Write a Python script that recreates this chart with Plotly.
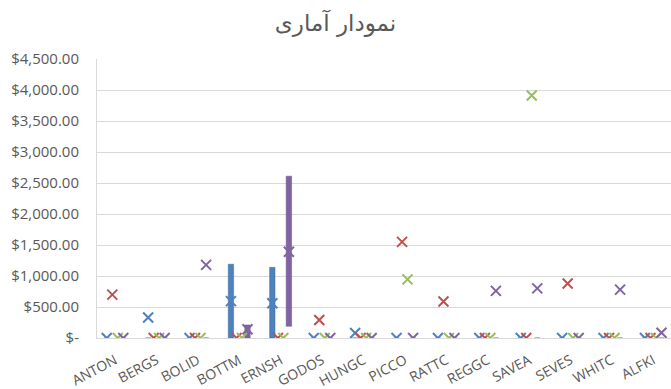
import plotly.graph_objects as go

# categories and series values
categories = ["ANTON", "BERGS", "BOLID", "BOTTM", "ERNSH", "GODOS", "HUNGC",
              "PICCO", "RATTC", "REGGC", "SAVEA", "SEVES", "WHITC", "ALFKI"]

blue_vals = [0, 330, 0, 595, 560, 0, 80, 0, 0, 0, 0, 0, 0, 0]
red_vals = [700, 0, 0, 0, 0, 290, 0, 1550, 590, 0, 0, 880, 0, 0]
green_vals = [0, 0, 0, 0, 0, 0, 0, 945, 0, 0, 3910, 0, 0, 0]
purple_vals = [0, 0, 1180, 140, 1390, 0, 0, 0, 0, 760, 800, 0, 780, 85]

# bar spans (low / high) for the two series that show bars
blue_bar_low = [0] * 14
blue_bar_high = [0, 0, 0, 1190, 1140, 0, 0, 0, 0, 0, 0, 0, 0, 0]
purple_bar_low = [0, 0, 0, 0, 190, 0, 0, 0, 0, 0, 0, 0, 0, 0]
purple_bar_high = [0, 0, 0, 210, 2610, 0, 0, 0, 0, 0, 0, 0, 0, 0]

y_ticks = [0, 500, 1000, 1500, 2000, 2500, 3000, 3500, 4000, 4500]
y_ticktext = ["$-", "$500.00", "$1,000.00", "$1,500.00", "$2,000.00",
              "$2,500.00", "$3,000.00", "$3,500.00", "$4,000.00", "$4,500.00"]

title_text = "نمودار آماری"

BLUE, RED, GREEN, PURPLE = "#4F81BD", "#C0504D", "#9BBB59", "#8064A2"
offsets = {"blue": -0.2, "red": -0.066, "green": 0.066, "purple": 0.2}
xs = list(range(len(categories)))

fig = go.Figure()

# bars
fig.add_trace(go.Bar(
    x=[i + offsets["blue"] for i in xs],
    y=[h - l for h, l in zip(blue_bar_high, blue_bar_low)],
    base=blue_bar_low, width=0.13,
    marker=dict(color=BLUE, line=dict(color="#3A6BA5", width=0.5)),
    showlegend=False, hoverinfo="skip"))
fig.add_trace(go.Bar(
    x=[i + offsets["purple"] for i in xs],
    y=[h - l for h, l in zip(purple_bar_high, purple_bar_low)],
    base=purple_bar_low, width=0.13,
    marker=dict(color=PURPLE, line=dict(color="#66508A", width=0.5)),
    showlegend=False, hoverinfo="skip"))

# x markers
for key, vals, col in [("blue", blue_vals, BLUE), ("red", red_vals, RED),
                       ("green", green_vals, GREEN), ("purple", purple_vals, PURPLE)]:
    fig.add_trace(go.Scatter(
        x=[i + offsets[key] for i in xs], y=vals, mode="markers",
        marker=dict(symbol="x-thin", size=10, color=col,
                    line=dict(color=col, width=2)),
        cliponaxis=True, showlegend=False))

fig.update_layout(
    width=671, height=389,
    margin=dict(l=97, r=0, t=59, b=51),
    paper_bgcolor="white", plot_bgcolor="white",
    barmode="overlay",
    font=dict(family="Open Sans, DejaVu Sans, sans-serif", color="#595959"),
    title=dict(text=title_text, x=0.5, xref="container", xanchor="center",
               y=0.94, yref="container", yanchor="middle",
               font=dict(family="DejaVu Sans, sans-serif", size=23, color="#595959")),
    xaxis=dict(range=[-0.435, 13.43], tickmode="array", tickvals=xs,
               ticktext=categories, tickangle=-28, showgrid=False,
               zeroline=False, showline=True, linecolor="#D9D9D9",
               tickfont=dict(size=14, color="#595959"), ticks="",
               ticklabelstandoff=8),
    yaxis=dict(range=[0, 4500], tickmode="array", tickvals=y_ticks,
               ticktext=y_ticktext, showgrid=True, gridcolor="#D9D9D9",
               gridwidth=1, zeroline=False, showline=True,
               linecolor="#D9D9D9", ticks="", ticklabelstandoff=14,
               tickfont=dict(size=15, color="#595959")),
)

fig.write_html("out.html", config={"displayModeBar": False},
               post_script="document.body.style.margin='0';")
